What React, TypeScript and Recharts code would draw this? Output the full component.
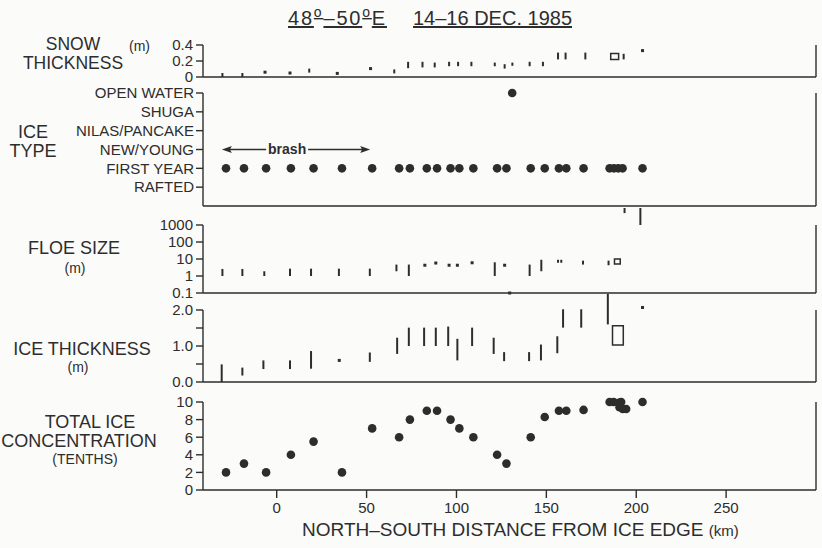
import React from 'react';
import { ComposedChart, Scatter, XAxis, YAxis, ErrorBar, ReferenceArea, ReferenceLine } from 'recharts';

// ---------------- DATA ----------------
const X_DOMAIN: [number, number] = [-41, 300];
const X_TICKS = [0, 50, 100, 150, 200, 250];

// Snow thickness (m): station distance, min, max
const snowKm = [-30.2, -19.1, -6.5, 7.4, 18.1, 33.7, 52.2, 65.4, 73.1, 81.1, 87.9, 95.9, 100.9, 108.3, 121.3, 126.8, 131.1, 140.7, 148.1, 156.5, 160.7, 171.7, 193.0, 203.5];
const snowLow = [0, 0, 0.06, 0.05, 0.055, 0.045, 0.105, 0.045, 0.11, 0.12, 0.12, 0.135, 0.135, 0.135, 0.135, 0.105, 0.14, 0.135, 0.135, 0.22, 0.22, 0.22, 0.22, 0.33];
const snowHigh = [0.05, 0.05, 0.06, 0.05, 0.105, 0.045, 0.105, 0.095, 0.19, 0.19, 0.18, 0.19, 0.19, 0.19, 0.18, 0.16, 0.18, 0.19, 0.19, 0.305, 0.305, 0.305, 0.29, 0.33];
const snowBoxKm = [188.0];
const snowBoxLow = [0.22];
const snowBoxHigh = [0.295];
const snowTicks = [0, 0.2, 0.4];

// Ice type
const iceTypeLevels = ['RAFTED', 'FIRST YEAR', 'NEW/YOUNG', 'NILAS/PANCAKE', 'SHUGA', 'OPEN WATER'];
const iceTypeKm = [-28.2, -18.2, -5.9, 7.9, 20.5, 36.3, 53.1, 68.1, 74.1, 83.5, 89.2, 96.7, 101.6, 109.4, 122.6, 127.8, 131.0, 141.3, 149.1, 157.0, 161.1, 170.7, 185.2, 187.6, 190.0, 192.4, 203.5];
const iceTypeObs = ['FIRST YEAR', 'FIRST YEAR', 'FIRST YEAR', 'FIRST YEAR', 'FIRST YEAR', 'FIRST YEAR', 'FIRST YEAR', 'FIRST YEAR', 'FIRST YEAR', 'FIRST YEAR', 'FIRST YEAR', 'FIRST YEAR', 'FIRST YEAR', 'FIRST YEAR', 'FIRST YEAR', 'FIRST YEAR', 'OPEN WATER', 'FIRST YEAR', 'FIRST YEAR', 'FIRST YEAR', 'FIRST YEAR', 'FIRST YEAR', 'FIRST YEAR', 'FIRST YEAR', 'FIRST YEAR', 'FIRST YEAR', 'FIRST YEAR'];
const brashSpanKm = [-30.5, 52.0];
const brashLevel = 'NEW/YOUNG';
const brashLabel = 'brash';

// Floe size (m)
const floeKm = [-30.2, -19.1, -6.9, 7.4, 19.1, 34.6, 51.8, 66.6, 73.5, 82.4, 88.5, 95.9, 100.5, 108.7, 121.3, 126.8, 129.6, 140.7, 147.2, 156.5, 158.3, 170.4, 184.6, 193.5, 202.3];
const floeLow = [1, 1, 1, 1, 1, 1, 1, 1.9, 1, 4.3, 5.8, 4.3, 4.3, 6, 1, 4.3, 0.1, 1, 1.9, 6, 6, 4.7, 4.3, 5000, 1000];
const floeHigh = [2.6, 2.6, 1.9, 2.7, 2.7, 2.7, 2.7, 4.7, 4.7, 4.3, 5.8, 4.3, 4.3, 6, 6.4, 4.3, 0.1, 4.7, 9, 9, 9, 8, 8, 10000, 10000];
const floeBoxKm = [189.5];
const floeBoxLow = [5];
const floeBoxHigh = [10];
const floeTicks = [0.1, 1, 10, 100, 1000];

// Ice thickness (m)
const thickKm = [-30.6, -19.1, -7.4, 7.4, 19.1, 34.8, 51.8, 67.0, 73.5, 82.0, 88.5, 95.4, 100.5, 108.7, 120.7, 126.5, 140.4, 147.0, 156.1, 159.3, 169.4, 184.2, 203.5];
const thickLow = [0, 0.18, 0.36, 0.36, 0.37, 0.6, 0.56, 0.78, 1.0, 1.0, 1.0, 1.0, 0.6, 1.0, 0.78, 0.58, 0.58, 0.6, 0.8, 1.51, 1.51, 1.6, 2.07];
const thickHigh = [0.49, 0.4, 0.6, 0.6, 0.86, 0.6, 0.82, 1.23, 1.51, 1.51, 1.51, 1.54, 1.2, 1.51, 1.23, 0.83, 0.83, 1.04, 1.27, 2.02, 2.02, 2.45, 2.07];
const thickBoxKm = [189.8];
const thickBoxLow = [1.03];
const thickBoxHigh = [1.56];
const thickTicks = [0, 0.5, 1, 1.5, 2];
const thickLabelled = [0, 1, 2];

// Total ice concentration (tenths)
const concKm = [-28.2, -18.2, -5.9, 7.9, 20.5, 36.3, 53.1, 68.1, 74.1, 83.5, 89.2, 96.7, 101.6, 109.4, 122.6, 127.8, 141.3, 149.1, 157.0, 161.1, 170.7, 185.2, 187.4, 190.3, 191.6, 190.7, 192.5, 194.4, 203.5];
const concTenths = [2, 3, 2, 4, 5.5, 2, 7, 6, 8, 9, 9, 8, 7, 6, 4, 3, 6, 8.3, 9, 9, 9.1, 10, 10, 9.9, 10, 9.4, 9.2, 9.2, 10];
const concTicks = [0, 2, 4, 6, 8, 10];

// ---------------- STYLE ----------------
const FONT = "'Liberation Sans', Arial, sans-serif";
const INK = '#2d2d2d';
const BG = '#fbfbf9';
const axisLineStyle = { stroke: INK, strokeWidth: 1.4 };
const tickLineStyle = { stroke: INK, strokeWidth: 1.4 };
const tickStyle = { fill: INK, fontSize: 15, fontFamily: FONT };
const LEFT_W = 203;
const RIGHT_W = 6;
const MT = 12;
const MB = 12;

const NoMark = () => <g />;
const SmallDot = (p: any) => <rect x={p.cx - 1.5} y={p.cy - 1.5} width={3} height={3} fill={INK} />;
const BigDot = (p: any) => <circle cx={p.cx} cy={p.cy} r={4.3} fill={INK} />;

function splitRanges(km: number[], lo: number[], hi: number[]) {
  const bars: any[] = [];
  const dots: any[] = [];
  km.forEach((x, i) => {
    if (hi[i] > lo[i]) bars.push({ x, y: lo[i], err: [0, hi[i] - lo[i]] });
    else dots.push({ x, y: lo[i] });
  });
  return { bars, dots };
}

const snow = splitRanges(snowKm, snowLow, snowHigh);
const floe = splitRanges(floeKm, floeLow, floeHigh);
const thick = splitRanges(thickKm, thickLow, thickHigh);
const iceTypeData = iceTypeKm.map((x, i) => ({ x, y: iceTypeLevels.indexOf(iceTypeObs[i]) + 1 }));
const concData = concKm.map((x, i) => ({ x, y: concTenths[i] }));
const brashY = iceTypeLevels.indexOf(brashLevel) + 1;

const BrashArrow = (p: any) => {
  const { x1, x2, y1 } = p;
  const mid = x1 + (x2 - x1) * 0.44;
  const half = 21;
  return (
    <g>
      <line x1={x1 + 4} y1={y1} x2={mid - half} y2={y1} stroke={INK} strokeWidth={1.3} />
      <line x1={mid + half} y1={y1} x2={x2 - 4} y2={y1} stroke={INK} strokeWidth={1.3} />
      <path d={`M${x1},${y1} l10,-3.5 l-2,3.5 l2,3.5 z`} fill={INK} />
      <path d={`M${x2},${y1} l-10,-3.5 l2,3.5 l-2,3.5 z`} fill={INK} />
      <text x={mid} y={y1} dy="0.32em" textAnchor="middle" fontSize={14} fontFamily={FONT} fontWeight="bold" fill={INK}>{brashLabel}</text>
    </g>
  );
};

const HX = 1; // hidden x-axis height (must be > 0 so the axis line is drawn)
const hiddenX = (
  <XAxis type="number" dataKey="x" domain={X_DOMAIN} ticks={X_TICKS} height={HX} tick={false} tickLine={false} axisLine={axisLineStyle} />
);

function box(x: number, half: number, lo: number, hi: number, key: string) {
  return <ReferenceArea key={key} x1={x - half} x2={x + half} y1={lo} y2={hi} fill="none" fillOpacity={0} stroke={INK} strokeWidth={1.5} ifOverflow="visible" />;
}

function wrap(plotTop: number, plotBottom: number, xh: number, chart: (h: number) => React.ReactNode) {
  const h = plotBottom - plotTop + MT + MB + xh;
  return <div style={{ position: 'absolute', left: 0, top: plotTop - MT }}>{chart(h)}</div>;
}

export default function App() {
  return (
    <div style={{ position: 'absolute', left: 0, top: 0, width: 822, height: 548, background: BG, overflow: 'hidden' }}>
      {/* SNOW THICKNESS */}
      {wrap(45, 77, HX, (h) => (
        <ComposedChart width={822} height={h} margin={{ top: MT, right: 0, bottom: MB, left: 0 }}>
          {hiddenX}
          <YAxis type="number" dataKey="y" domain={[0, 0.4]} ticks={snowTicks} interval={0} width={LEFT_W} tickSize={7} tickMargin={3}
            axisLine={axisLineStyle} tickLine={tickLineStyle} tick={tickStyle} tickFormatter={(v: number) => (v === 0 ? '0' : v.toFixed(1))} />
          <YAxis yAxisId="r" orientation="right" type="number" dataKey="y" domain={[0, 0.4]} ticks={snowTicks} interval={0} width={RIGHT_W} tickSize={6}
            axisLine={axisLineStyle} tickLine={tickLineStyle} tickFormatter={() => ''} />
          <Scatter data={snow.bars} dataKey="y" shape={NoMark} isAnimationActive={false}>
            <ErrorBar dataKey="err" direction="y" width={0} stroke={INK} strokeWidth={2} isAnimationActive={false} />
          </Scatter>
          <Scatter data={snow.dots} dataKey="y" shape={SmallDot} isAnimationActive={false} />
          {snowBoxKm.map((x, i) => box(x, 2.2, snowBoxLow[i], snowBoxHigh[i], 'sb' + i))}
        </ComposedChart>
      ))}

      {/* ICE TYPE */}
      {wrap(93, 206, HX, (h) => (
        <ComposedChart width={822} height={h} margin={{ top: MT, right: 0, bottom: MB, left: 0 }}>
          {hiddenX}
          <YAxis type="number" dataKey="y" domain={[0, 6]} ticks={[1, 2, 3, 4, 5, 6]} interval={0} width={LEFT_W} tickSize={7} tickMargin={2}
            axisLine={axisLineStyle} tickLine={tickLineStyle} tick={tickStyle} tickFormatter={(v: number) => iceTypeLevels[v - 1] ?? ''} />
          <YAxis yAxisId="r" orientation="right" type="number" dataKey="y" domain={[0, 6]} ticks={[1, 2, 3, 4, 5, 6]} interval={0} width={RIGHT_W} tickSize={6}
            axisLine={axisLineStyle} tickLine={tickLineStyle} tickFormatter={() => ''} />
          <ReferenceLine segment={[{ x: brashSpanKm[0], y: brashY }, { x: brashSpanKm[1], y: brashY }]} shape={BrashArrow} ifOverflow="visible" />
          <Scatter data={iceTypeData} dataKey="y" shape={BigDot} isAnimationActive={false} />
        </ComposedChart>
      ))}

      {/* FLOE SIZE */}
      {wrap(208, 293, HX, (h) => (
        <ComposedChart width={822} height={h} margin={{ top: MT, right: 0, bottom: MB, left: 0 }}>
          {hiddenX}
          <YAxis type="number" dataKey="y" scale="log" domain={[0.1, 10000]} ticks={floeTicks} interval={0} width={LEFT_W} tickSize={7} tickMargin={3}
            axisLine={false} tickLine={tickLineStyle} tick={tickStyle} tickFormatter={(v: number) => String(v)} />
          <YAxis yAxisId="r" orientation="right" type="number" dataKey="y" scale="log" domain={[0.1, 10000]} ticks={floeTicks} interval={0} width={RIGHT_W} tickSize={6}
            axisLine={false} tickLine={tickLineStyle} tickFormatter={() => ''} />
          <ReferenceLine segment={[{ x: X_DOMAIN[0], y: floeTicks[0] }, { x: X_DOMAIN[0], y: floeTicks[floeTicks.length - 1] }]} stroke={INK} strokeWidth={1.4} ifOverflow="visible" />
          <ReferenceLine segment={[{ x: X_DOMAIN[1], y: floeTicks[0] }, { x: X_DOMAIN[1], y: floeTicks[floeTicks.length - 1] }]} stroke={INK} strokeWidth={1.4} ifOverflow="visible" />
          <Scatter data={floe.bars} dataKey="y" shape={NoMark} isAnimationActive={false}>
            <ErrorBar dataKey="err" direction="y" width={0} stroke={INK} strokeWidth={2} isAnimationActive={false} />
          </Scatter>
          <Scatter data={floe.dots} dataKey="y" shape={SmallDot} isAnimationActive={false} />
          {floeBoxKm.map((x, i) => box(x, 1.6, floeBoxLow[i], floeBoxHigh[i], 'fb' + i))}
        </ComposedChart>
      ))}

      {/* ICE THICKNESS */}
      {wrap(292, 382, HX, (h) => (
        <ComposedChart width={822} height={h} margin={{ top: MT, right: 0, bottom: MB, left: 0 }}>
          {hiddenX}
          <YAxis type="number" dataKey="y" domain={[0, 2.5]} ticks={thickTicks} interval={0} width={LEFT_W} tickSize={7} tickMargin={3}
            axisLine={false} tickLine={tickLineStyle} tick={tickStyle} tickFormatter={(v: number) => (thickLabelled.includes(v) ? v.toFixed(1) : '')} />
          <YAxis yAxisId="r" orientation="right" type="number" dataKey="y" domain={[0, 2.5]} ticks={thickTicks} interval={0} width={RIGHT_W} tickSize={6}
            axisLine={false} tickLine={tickLineStyle} tickFormatter={() => ''} />
          <ReferenceLine segment={[{ x: X_DOMAIN[0], y: thickTicks[0] }, { x: X_DOMAIN[0], y: thickTicks[thickTicks.length - 1] }]} stroke={INK} strokeWidth={1.4} ifOverflow="visible" />
          <ReferenceLine segment={[{ x: X_DOMAIN[1], y: thickTicks[0] }, { x: X_DOMAIN[1], y: thickTicks[thickTicks.length - 1] }]} stroke={INK} strokeWidth={1.4} ifOverflow="visible" />
          <Scatter data={thick.bars} dataKey="y" shape={NoMark} isAnimationActive={false}>
            <ErrorBar dataKey="err" direction="y" width={0} stroke={INK} strokeWidth={2} isAnimationActive={false} />
          </Scatter>
          <Scatter data={thick.dots} dataKey="y" shape={SmallDot} isAnimationActive={false} />
          {thickBoxKm.map((x, i) => box(x, 3.0, thickBoxLow[i], thickBoxHigh[i], 'tb' + i))}
        </ComposedChart>
      ))}

      {/* TOTAL ICE CONCENTRATION */}
      {wrap(402, 490, 46, (h) => (
        <ComposedChart width={822} height={h} margin={{ top: MT, right: 0, bottom: MB, left: 0 }}>
          <XAxis type="number" dataKey="x" domain={X_DOMAIN} ticks={X_TICKS} interval={0} height={46} tickSize={8} tickMargin={4}
            tick={tickStyle} tickLine={tickLineStyle} axisLine={axisLineStyle} />
          <YAxis type="number" dataKey="y" domain={[0, 10]} ticks={concTicks} interval={0} width={LEFT_W} tickSize={7} tickMargin={3}
            axisLine={axisLineStyle} tickLine={tickLineStyle} tick={tickStyle} />
          <YAxis yAxisId="r" orientation="right" type="number" dataKey="y" domain={[0, 10]} ticks={concTicks} interval={0} width={RIGHT_W} tickSize={6}
            axisLine={axisLineStyle} tickLine={tickLineStyle} tickFormatter={() => ''} />
          <Scatter data={concData} dataKey="y" shape={BigDot} isAnimationActive={false} />
        </ComposedChart>
      ))}

      {/* TEXT LABELS */}
      <svg width={822} height={548} style={{ position: 'absolute', left: 0, top: 0, pointerEvents: 'none' }}>
        <g fill={INK} fontFamily={FONT}>
          <text x={288} y={25} fontSize={20} letterSpacing={1.8} style={{ textDecoration: 'underline' }}>
            48<tspan dy={-8} fontSize={14}>o</tspan><tspan dy={8}>–50</tspan><tspan dy={-8} fontSize={14}>o</tspan><tspan dy={8}>E</tspan>
          </text>
          <text x={413} y={25} fontSize={20} style={{ textDecoration: 'underline' }}>14–16 DEC. 1985</text>

          <text x={73} y={50} fontSize={17.5} textAnchor="middle">SNOW</text>
          <text x={73} y={69} fontSize={17.5} textAnchor="middle">THICKNESS</text>
          <text x={129} y={51} fontSize={14}>(m)</text>

          <text x={33} y={137.5} fontSize={18} textAnchor="middle">ICE</text>
          <text x={33} y={156.5} fontSize={18} textAnchor="middle">TYPE</text>

          <text x={74} y={253.5} fontSize={18} textAnchor="middle">FLOE SIZE</text>
          <text x={75} y={273} fontSize={14} textAnchor="middle">(m)</text>

          <text x={82} y={354.5} fontSize={18} textAnchor="middle">ICE THICKNESS</text>
          <text x={78} y={372} fontSize={14} textAnchor="middle">(m)</text>

          <text x={90} y={427.5} fontSize={18} textAnchor="middle">TOTAL ICE</text>
          <text x={79} y={446.5} fontSize={18} textAnchor="middle">CONCENTRATION</text>
          <text x={85} y={464} fontSize={14} textAnchor="middle">(TENTHS)</text>

          <text x={302} y={536} fontSize={19}>NORTH–SOUTH DISTANCE FROM ICE EDGE <tspan fontSize={15}>(km)</tspan></text>
        </g>
      </svg>
    </div>
  );
}
